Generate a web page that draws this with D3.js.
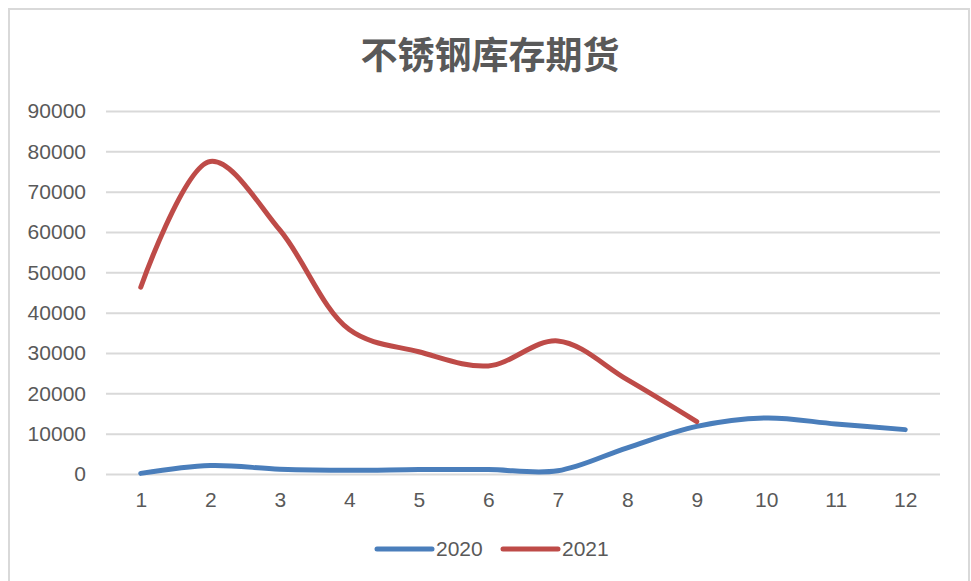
<!DOCTYPE html>
<html>
<head>
<meta charset="utf-8">
<script src="https://cdn.jsdelivr.net/npm/d3@7"></script>
<style>
  body { margin: 0; background: #fff; }
  text { font-family: "Liberation Sans", Arial, sans-serif; fill: #595959; }
</style>
</head>
<body>
<script>
const months = [1, 2, 3, 4, 5, 6, 7, 8, 9, 10, 11, 12];
const values2020 = [150, 2100, 1200, 900, 1100, 1100, 800, 6500, 11800, 13900, 12400, 11000];
const values2021 = [46300, 77500, 60500, 35800, 30300, 26800, 33000, 23400, 13000];
const yTicks = [0, 10000, 20000, 30000, 40000, 50000, 60000, 70000, 80000, 90000];
const seriesNames = ["2020", "2021"];
const colors = ["#4a7ebb", "#be4b48"];
const title = "不锈钢库存期货";

const W = 971, H = 581;
const margin = { top: 111, right: 31, bottom: 107, left: 106 };
const width = W - margin.left - margin.right;
const height = H - margin.top - margin.bottom;

const svg = d3.select("body").append("svg")
    .attr("width", W)
    .attr("height", H);

// outer frame
svg.append("rect")
    .attr("x", 9).attr("y", 9)
    .attr("width", 960).attr("height", 600)
    .attr("fill", "none")
    .attr("stroke", "#d9d9d9")
    .attr("stroke-width", 2);

svg.append("text")
    .attr("x", 490)
    .attr("y", 69)
    .attr("text-anchor", "middle")
    .style("font-family", "'Noto Sans CJK SC', sans-serif")
    .style("font-size", "37px")
    .style("font-weight", "bold")
    .style("fill", "#595959")
    .text(title);

const g = svg.append("g")
    .attr("transform", "translate(" + margin.left + "," + margin.top + ")");

const x = d3.scalePoint()
    .domain(months)
    .range([0, width])
    .padding(0.5);

const y = d3.scaleLinear()
    .domain([0, 90000])
    .range([height, 0]);

// grid
g.append("g")
    .attr("class", "grid")
    .call(d3.axisLeft(y).tickValues(yTicks).tickSize(-width).tickFormat(""))
    .call(s => s.select(".domain").remove())
    .selectAll("line")
    .attr("stroke", "#d9d9d9")
    .attr("stroke-width", 2);

// y axis labels
g.append("g")
    .call(d3.axisLeft(y).tickValues(yTicks).tickSize(0).tickPadding(20).tickFormat(d3.format("d")))
    .call(s => s.select(".domain").remove())
    .selectAll("text")
    .style("font-size", "21px")
    .attr("fill", "#595959");

// x axis labels
g.append("g")
    .attr("transform", "translate(0," + height + ")")
    .call(d3.axisBottom(x).tickSize(0).tickPadding(18))
    .call(s => s.select(".domain").remove())
    .selectAll("text")
    .style("font-size", "21px")
    .attr("fill", "#595959");

const line = d3.line()
    .x((d, i) => x(months[i]))
    .y(d => y(d))
    .curve(d3.curveCatmullRom.alpha(0.5));

[values2020, values2021].forEach((vals, k) => {
    g.append("path")
        .datum(vals)
        .attr("fill", "none")
        .attr("stroke", colors[k])
        .attr("stroke-width", 5)
        .attr("stroke-linecap", "round")
        .attr("stroke-linejoin", "round")
        .attr("d", line);
});

// legend
const legendX = [377, 503];
seriesNames.forEach((name, k) => {
    const lg = svg.append("g").attr("transform", "translate(" + legendX[k] + ",549)");
    lg.append("line")
        .attr("x1", 0).attr("x2", 55)
        .attr("stroke", colors[k])
        .attr("stroke-width", 5)
        .attr("stroke-linecap", "round");
    lg.append("text")
        .attr("x", 59)
        .attr("y", 7)
        .style("font-size", "21px")
        .text(name);
});
</script>
</body>
</html>
